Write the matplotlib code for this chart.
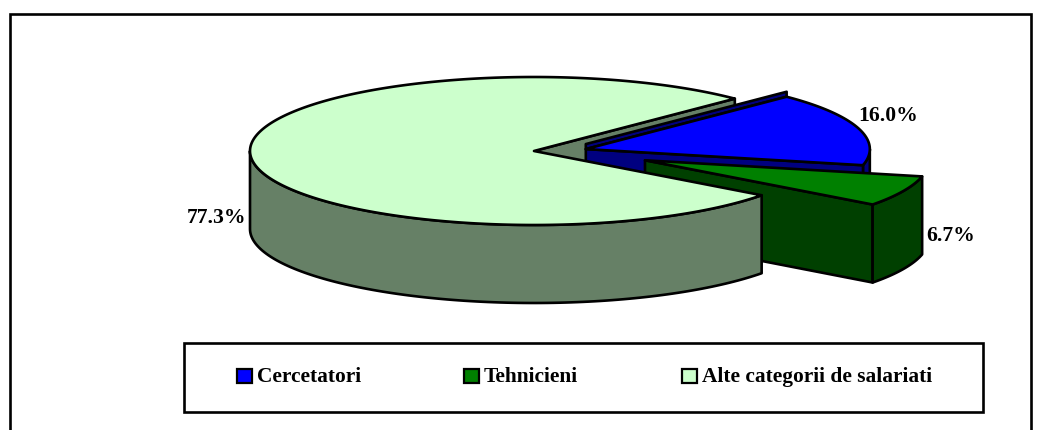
import numpy as np
import matplotlib.pyplot as plt
from matplotlib.patches import Polygon, Rectangle

# data
categories = ['Cercetatori', 'Tehnicieni', 'Alte categorii de salariati']
shares = [16.0, 6.7, 77.3]
explode = [0.19, 0.43, 0.0]
top_colors = ['#0000ff', '#008000', '#ccffcc']
side_colors = ['#000080', '#004000', '#668066']

# pie geometry, in pixels of the picture
cx, cy = 534, 152
rx, ry = 284, 74
depth = 78
start = 45.0
line_w = 1.9
nudge_y = [2, -4, 0]  # slices do not sit exactly on the ellipse in the original

plt.rcParams['font.family'] = ['Liberation Serif', 'DejaVu Serif']
fig = plt.figure(figsize=(10.52, 4.31), dpi=100)
ax = fig.add_axes([0, 0, 1, 1])
ax.set_xlim(0, 1052)
ax.set_ylim(431, 0)
ax.axis('off')

# outer frame, the bottom runs off the picture
ax.add_patch(Rectangle((10, 15), 1021, 430, fc='white', ec='black', lw=line_w, clip_on=True))


def project(x0, y0, t):
    t = np.radians(t)
    return x0 + rx * np.cos(t), y0 - ry * np.sin(t)


# work out wedge angles and apexes from the shares
wedges = []
a = start
for share, ex, ny in zip(shares, explode, nudge_y):
    b = a - share * 3.6
    mid = (a + b) / 2
    x0, y0 = project(cx, cy, mid)
    x0 = cx + (x0 - cx) * ex
    y0 = cy + (y0 - cy) * ex + ny
    wedges.append((a, b, x0, y0))
    a = b


def face(x0, y0, t, z, **kw):
    # flat cut face going from the apex to the rim, z pixels deep
    ex, ey = project(x0, y0, t)
    pts = [(x0, y0), (ex, ey), (ex, ey + z), (x0, y0 + z)]
    ax.add_patch(Polygon(pts, closed=True, ec='black', lw=line_w, joinstyle='round', **kw))


def rim(x0, y0, t1, t2, **kw):
    ts = np.linspace(t1, t2, 120)
    xs, ys = project(x0, y0, ts)
    pts = np.vstack([np.c_[xs, ys], np.c_[xs[::-1], ys[::-1] + depth]])
    ax.add_patch(Polygon(pts, closed=True, ec='black', lw=line_w, joinstyle='round', **kw))


def top(x0, y0, t1, t2, **kw):
    ts = np.linspace(t1, t2, 300)
    xs, ys = project(x0, y0, ts)
    pts = np.vstack([[x0, y0], np.c_[xs, ys]])
    ax.add_patch(Polygon(pts, closed=True, ec='black', lw=line_w, joinstyle='round', **kw))


a_b, b_b, xb, yb = wedges[0]
a_g, b_g, xg, yg = wedges[1]
a_l, b_l, xl, yl = wedges[2]

# back cut face of the big slice shows through the notch
face(xl, yl, b_l, depth, fc=side_colors[2])

# blue slice
rim(xb, yb, 0, b_b, fc=side_colors[0])
face(xb, yb, b_b, depth, fc=side_colors[0])
face(xb, yb - 5, a_b, 5, fc=side_colors[0])
top(xb, yb, a_b, b_b, fc=top_colors[0])

# green slice
face(xg, yg, b_g, depth, fc=side_colors[1])
rim(xg, yg, a_g, b_g, fc=side_colors[1])
top(xg, yg, a_g, b_g, fc=top_colors[1])

# big slice on top of the others
rim(xl, yl, a_l, -180, fc=side_colors[2])
top(xl, yl, a_l, b_l, fc=top_colors[2])

# value labels
labels = ['%.1f%%' % s for s in shares]
label_pos = [(888, 116), (951, 236), (216, 218)]
for lab, (lx, ly) in zip(labels, label_pos):
    ax.text(lx, ly, lab, ha='center', va='center', fontsize=15.6, fontweight='bold')

# legend box
ax.add_patch(Rectangle((184, 344), 799, 69, fc='white', ec='black', lw=line_w))
key_x = [237, 464, 682]
for x, name, col in zip(key_x, categories, top_colors):
    ax.add_patch(Rectangle((x, 370), 15, 14, fc=col, ec='black', lw=1.6))
    ax.text(x + 20, 377, name, ha='left', va='center', fontsize=15.4, fontweight='bold')

fig.savefig('out.png', dpi=100)
